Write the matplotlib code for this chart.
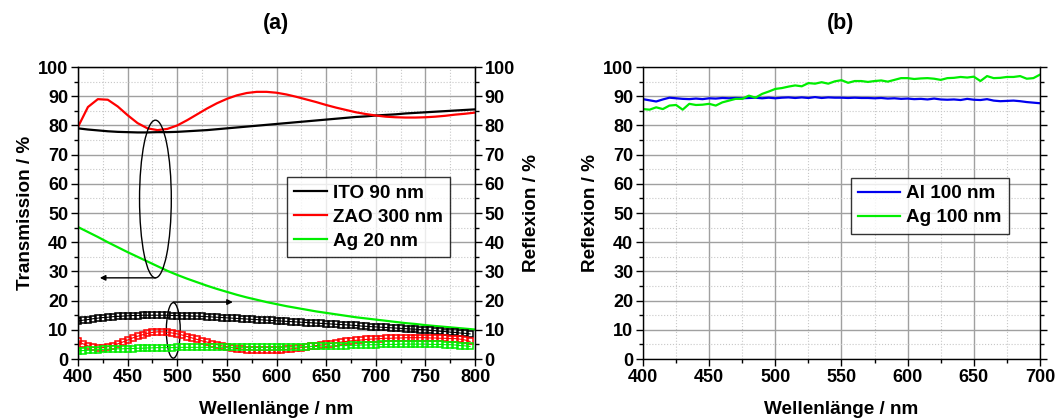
import numpy as np
import matplotlib.pyplot as plt
from matplotlib.patches import Ellipse
from matplotlib.ticker import MultipleLocator

plt.rcParams['font.family'] = ['Liberation Sans', 'DejaVu Sans']
plt.rcParams['font.weight'] = 'bold'

# panel (a): transmission (left axis), 400..800 nm in 10 nm steps
wl_t = np.arange(400, 801, 10)
ito_t = [79.0, 78.6, 78.3, 78.0, 77.8, 77.7, 77.6, 77.6, 77.7, 77.7,
         77.8, 78.0, 78.2, 78.4, 78.7, 79.0, 79.3, 79.6, 79.9, 80.2,
         80.5, 80.8, 81.1, 81.4, 81.7, 82.0, 82.3, 82.6, 82.9, 83.1,
         83.4, 83.6, 83.8, 84.1, 84.3, 84.5, 84.7, 84.9, 85.1, 85.3, 85.5]
zao_t = [79.5, 86.3, 89.0, 88.8, 86.5, 83.5, 80.8, 79.0, 78.4, 78.8,
         80.0, 81.8, 83.8, 85.8, 87.6, 89.1, 90.3, 91.1, 91.5, 91.5,
         91.2, 90.6, 89.8, 88.9, 88.0, 87.0, 86.1, 85.3, 84.5, 83.9,
         83.4, 83.0, 82.8, 82.7, 82.7, 82.8, 83.0, 83.3, 83.7, 84.0, 84.4]
ag20_t = [45.2, 43.5, 41.8, 40.0, 38.3, 36.6, 35.0, 33.4, 31.8, 30.2,
          28.8, 27.5, 26.3, 25.1, 24.0, 23.0, 22.0, 21.1, 20.3, 19.5,
          18.8, 18.1, 17.5, 16.9, 16.3, 15.8, 15.3, 14.8, 14.3, 13.9,
          13.5, 13.1, 12.7, 12.3, 12.0, 11.6, 11.3, 11.0, 10.7, 10.4, 10.1]

# panel (a): reflection (right axis), 400..795 nm in 5 nm steps
wl_r = np.arange(400, 796, 5)
ito_r = [13.0, 13.3, 13.5, 13.8, 14.0, 14.2, 14.3, 14.5, 14.6, 14.7,
         14.8, 14.9, 14.9, 15.0, 15.0, 15.0, 15.0, 15.0, 15.0, 14.9,
         14.9, 14.8, 14.8, 14.7, 14.7, 14.6, 14.5, 14.4, 14.3, 14.2,
         14.1, 14.0, 13.9, 13.8, 13.7, 13.6, 13.5, 13.4, 13.3, 13.2,
         13.1, 13.0, 12.9, 12.8, 12.7, 12.6, 12.5, 12.4, 12.3, 12.2,
         12.1, 12.0, 11.9, 11.8, 11.7, 11.6, 11.5, 11.3, 11.2, 11.1,
         11.0, 10.9, 10.8, 10.7, 10.6, 10.5, 10.4, 10.3, 10.2, 10.1,
         10.0, 9.8, 9.7, 9.5, 9.4, 9.2, 9.1, 8.9, 8.8, 8.6]
zao_r = [6.0, 5.2, 4.5, 4.0, 3.8, 3.9, 4.2, 4.6, 5.2, 5.8,
         6.5, 7.2, 7.8, 8.3, 8.8, 9.1, 9.3, 9.3, 9.2, 8.9,
         8.6, 8.2, 7.7, 7.2, 6.7, 6.2, 5.8, 5.3, 4.9, 4.5,
         4.2, 3.9, 3.6, 3.4, 3.2, 3.1, 3.0, 3.0, 3.0, 3.0,
         3.1, 3.2, 3.3, 3.5, 3.7, 3.9, 4.1, 4.3, 4.6, 4.8,
         5.1, 5.3, 5.6, 5.8, 6.0, 6.2, 6.4, 6.5, 6.7, 6.8,
         6.9, 7.0, 7.1, 7.1, 7.2, 7.2, 7.3, 7.3, 7.3, 7.3,
         7.3, 7.2, 7.2, 7.1, 7.1, 7.0, 7.0, 6.8, 6.5, 6.0]
ag20_r = [2.8, 2.9, 3.0, 3.1, 3.2, 3.3, 3.4, 3.4, 3.5, 3.5,
          3.6, 3.6, 3.7, 3.7, 3.8, 3.8, 3.9, 3.9, 3.9, 3.9,
          4.0, 4.0, 4.0, 4.0, 4.0, 4.0, 4.0, 4.0, 4.0, 4.0,
          4.0, 4.0, 4.0, 4.0, 4.0, 4.0, 4.0, 4.0, 4.0, 4.0,
          4.0, 4.0, 4.1, 4.1, 4.1, 4.2, 4.2, 4.3, 4.3, 4.4,
          4.4, 4.5, 4.5, 4.6, 4.6, 4.7, 4.7, 4.8, 4.8, 4.9,
          4.9, 5.0, 5.0, 5.0, 5.0, 5.1, 5.1, 5.1, 5.1, 5.1,
          5.1, 5.0, 5.0, 5.0, 4.9, 4.9, 4.8, 4.6, 4.5, 4.3]

# panel (b): reflection, 400..700 nm in 5 nm steps
wl_b = np.arange(400, 701, 5)
al100_r = [89.0, 88.6, 88.2, 88.9, 89.5, 89.3, 89.1, 89.0, 89.2, 89.0,
           89.3, 89.2, 89.4, 89.3, 89.4, 89.3, 89.4, 89.5, 89.3, 89.5,
           89.3, 89.5, 89.6, 89.4, 89.6, 89.4, 89.7, 89.4, 89.6, 89.5,
           89.5, 89.4, 89.5, 89.4, 89.4, 89.3, 89.4, 89.2, 89.3, 89.1,
           89.2, 89.0, 89.1, 88.9, 89.2, 88.9, 88.8, 88.9, 88.7, 89.1,
           88.8, 88.7, 89.0, 88.5, 88.3, 88.4, 88.5, 88.3, 88.0, 87.8,
           87.6]
ag100_r = [85.6, 85.4, 86.2, 85.6, 86.8, 87.0, 85.4, 87.4, 87.0, 87.1,
           87.4, 86.8, 87.9, 88.5, 89.1, 89.1, 90.2, 89.5, 90.8, 91.6,
           92.5, 92.8, 93.3, 93.7, 93.4, 94.5, 94.3, 94.8, 94.3, 95.1,
           95.5, 94.6, 95.2, 95.2, 94.9, 95.2, 95.4, 95.0, 95.6, 96.2,
           96.2, 95.9, 96.1, 96.2, 96.0, 95.6, 96.2, 96.3, 96.6, 96.4,
           96.7, 95.2, 96.9, 96.2, 96.3, 96.6, 96.6, 96.9, 96.0, 96.2,
           97.4]

GREEN = '#00ee00'
LABEL_FS = 13.6
TICK_FS = 13


def style(ax, xmin, xmax):
    ax.set_xlim(xmin, xmax)
    ax.set_ylim(0, 100)
    ax.xaxis.set_major_locator(MultipleLocator(50))
    ax.xaxis.set_minor_locator(MultipleLocator(25))
    ax.yaxis.set_major_locator(MultipleLocator(10))
    ax.yaxis.set_minor_locator(MultipleLocator(5))
    ax.grid(True, which='major', color='#a0a0a0', lw=1)
    ax.grid(True, which='minor', color='#c8c8c8', lw=0.8, ls=':')
    ax.set_axisbelow(True)
    ax.tick_params(which='major', direction='out', length=5, width=1,
                   labelsize=TICK_FS, pad=2)
    ax.tick_params(which='minor', direction='out', length=3, width=1)
    for s in ax.spines.values():
        s.set_linewidth(1)
    ax.set_xlabel('Wellenlänge / nm', fontsize=LABEL_FS, fontweight='bold', labelpad=11)


fig = plt.figure(figsize=(10.57, 4.2), dpi=100)

# ---- (a)
ax1 = fig.add_axes([0.0738, 0.1452, 0.3756, 0.6952])
style(ax1, 400, 800)
l1, = ax1.plot(wl_t, ito_t, color='black', lw=1.6, label='ITO 90 nm')
l2, = ax1.plot(wl_t, zao_t, color='red', lw=1.6, label='ZAO 300 nm')
l3, = ax1.plot(wl_t, ag20_t, color=GREEN, lw=1.6, label='Ag 20 nm')
ax1.set_ylabel('Transmission / %', fontsize=LABEL_FS, fontweight='bold', labelpad=3)

ax1r = ax1.twinx()
ax1r.set_ylim(0, 100)
ax1r.yaxis.set_major_locator(MultipleLocator(10))
ax1r.yaxis.set_minor_locator(MultipleLocator(5))
ax1r.tick_params(which='major', direction='out', length=5, width=1,
                 labelsize=TICK_FS, pad=2)
ax1r.tick_params(which='minor', direction='out', length=3, width=1)
for y, c in [(ito_r, 'black'), (zao_r, 'red'), (ag20_r, GREEN)]:
    ax1r.plot(wl_r, y, color=c, lw=0.8, marker='s', ms=4.4, mfc='none', mew=1.1)
ax1r.set_ylabel('Reflexion / %', fontsize=LABEL_FS, fontweight='bold', labelpad=6)

leg = ax1.legend(handles=[l1, l2, l3], loc='upper left', bbox_to_anchor=(0.526, 0.623),
                 borderaxespad=0, fontsize=LABEL_FS, frameon=True, fancybox=False,
                 edgecolor='black', handlelength=1.75, borderpad=0.38,
                 labelspacing=0.36, handletextpad=0.3)
leg.get_frame().set_linewidth(1)
leg.set_zorder(5)

ax1.add_patch(Ellipse((478, 54.8), 32, 54, fill=False, ec='black', lw=1, zorder=6))
ax1.annotate('', xy=(422, 27.8), xytext=(478, 27.8),
             arrowprops=dict(arrowstyle='-|>', color='black', lw=1, mutation_scale=8,
                             shrinkA=0, shrinkB=0))
ax1.add_patch(Ellipse((496, 9.8), 14, 19, fill=False, ec='black', lw=1, zorder=6))
ax1.annotate('', xy=(556, 19.5), xytext=(496, 19.5),
             arrowprops=dict(arrowstyle='-|>', color='black', lw=1, mutation_scale=8,
                             shrinkA=0, shrinkB=0))
fig.text(0.261, 0.945, '(a)', fontsize=15.5, fontweight='bold', ha='center', va='center')

# ---- (b)
ax2 = fig.add_axes([0.6083, 0.1452, 0.3756, 0.6952])
style(ax2, 400, 700)
ax2.tick_params(which='both', right=True)
ax2.plot(wl_b, al100_r, color='#0000ee', lw=1.6, label='Al 100 nm')
ax2.plot(wl_b, ag100_r, color=GREEN, lw=1.6, label='Ag 100 nm')
ax2.set_ylabel('Reflexion / %', fontsize=LABEL_FS, fontweight='bold', labelpad=3)
leg2 = ax2.legend(loc='upper left', bbox_to_anchor=(0.524, 0.620),
                  borderaxespad=0, fontsize=LABEL_FS, frameon=True, fancybox=False,
                  edgecolor='black', handlelength=2.2, borderpad=0.38,
                  labelspacing=0.36, handletextpad=0.35)
leg2.get_frame().set_linewidth(1)
fig.text(0.795, 0.945, '(b)', fontsize=15.5, fontweight='bold', ha='center', va='center')

fig.savefig('out.png', dpi=100)
